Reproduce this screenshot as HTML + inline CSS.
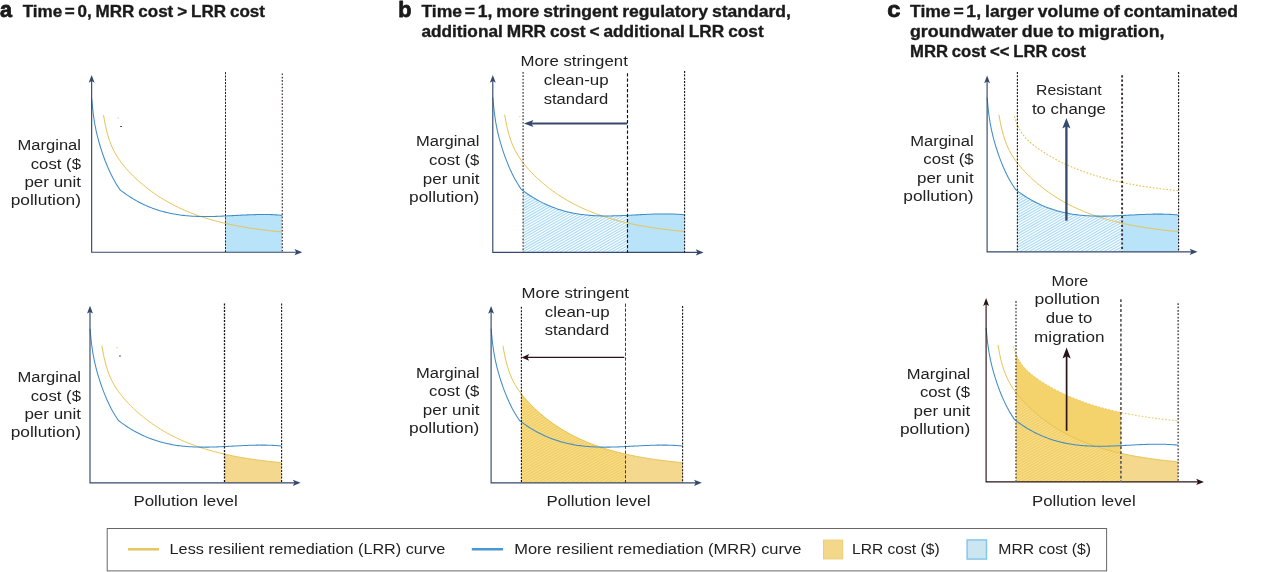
<!DOCTYPE html>
<html lang="en">
<head>
<meta charset="utf-8">
<title>Remediation cost curves</title>
<style>
html,body{margin:0;padding:0;background:#fff;}
body{width:1270px;height:572px;overflow:hidden;}
svg{display:block;font-family:"Liberation Sans",sans-serif;}
</style>
</head>
<body>
<svg width="1270" height="572" viewBox="0 0 1270 572">
<rect width="1270" height="572" fill="#fff"/>
<path d="M225.50,252.20 L225.50,215.98 L226.65,215.93 L228.15,215.85 L229.65,215.77 L231.15,215.69 L232.65,215.62 L234.15,215.54 L235.65,215.46 L237.15,215.38 L238.65,215.30 L240.15,215.22 L241.65,215.14 L243.15,215.07 L244.65,215.00 L246.15,214.93 L247.65,214.86 L249.15,214.80 L250.65,214.75 L252.15,214.69 L253.65,214.65 L255.15,214.61 L256.65,214.57 L258.15,214.54 L259.65,214.52 L261.15,214.50 L262.65,214.50 L264.15,214.50 L265.65,214.51 L267.15,214.53 L268.65,214.56 L270.15,214.60 L271.65,214.64 L273.15,214.70 L274.65,214.78 L276.15,214.86 L277.65,214.95 L279.15,215.06 L280.65,215.18 L282.10,215.31 L282.10,252.20 Z" fill="#b9e3f8"/>
<path d="M103.50,115.21 L105.00,123.49 L106.50,130.23 L108.00,135.81 L109.50,140.50 L111.00,144.50 L112.50,147.98 L114.00,151.05 L115.50,153.81 L117.00,156.32 L118.50,158.64 L120.00,160.79 L121.50,162.82 L123.00,164.74 L124.50,166.57 L126.00,168.33 L127.50,170.02 L129.00,171.65 L130.50,173.23 L132.00,174.76 L133.50,176.25 L135.00,177.70 L136.50,179.11 L138.00,180.49 L139.50,181.82 L141.00,183.13 L142.50,184.41 L144.00,185.65 L145.50,186.87 L147.00,188.05 L148.50,189.21 L150.00,190.34 L151.50,191.45 L153.00,192.53 L154.50,193.58 L156.00,194.61 L157.50,195.61 L159.00,196.60 L160.50,197.56 L162.00,198.49 L163.50,199.41 L165.00,200.30 L166.50,201.18 L168.00,202.03 L169.50,202.86 L171.00,203.68 L172.50,204.47 L174.00,205.25 L175.50,206.01 L177.00,206.75 L178.50,207.48 L180.00,208.18 L181.50,208.87 L183.00,209.55 L184.50,210.21 L186.00,210.85 L187.50,211.48 L189.00,212.10 L190.50,212.70 L192.00,213.29 L193.50,213.86 L195.00,214.42 L196.50,214.97 L198.00,215.50 L199.50,216.02 L201.00,216.53 L202.50,217.03 L204.00,217.52 L205.50,217.99 L207.00,218.46 L208.50,218.91 L210.00,219.35 L211.50,219.79 L213.00,220.21 L214.50,220.62 L216.00,221.03 L217.50,221.42 L219.00,221.80 L220.50,222.18 L222.00,222.55 L223.50,222.91 L225.00,223.26 L226.50,223.60 L228.00,223.94 L229.50,224.26 L231.00,224.58 L232.50,224.89 L234.00,225.20 L235.50,225.50 L237.00,225.79 L238.50,226.07 L240.00,226.35 L241.50,226.62 L243.00,226.88 L244.50,227.14 L246.00,227.40 L247.50,227.64 L249.00,227.88 L250.50,228.12 L252.00,228.35 L253.50,228.57 L255.00,228.79 L256.50,229.01 L258.00,229.22 L259.50,229.42 L261.00,229.62 L262.50,229.82 L264.00,230.01 L265.50,230.19 L267.00,230.38 L268.50,230.55 L270.00,230.73 L271.50,230.90 L273.00,231.06 L274.50,231.23 L276.00,231.38 L277.50,231.54 L279.00,231.69 L280.50,231.84 L282.00,231.98 L282.20,232.00" fill="none" stroke="#e8c352" stroke-width="1.0"/>
<path d="M91.65,98.20 L93.15,113.13 L94.65,123.23 L96.15,130.88 L97.65,137.20 L99.15,142.74 L100.65,147.76 L102.15,152.39 L103.65,156.71 L105.15,160.75 L106.65,164.53 L108.15,168.09 L109.65,171.44 L111.15,174.58 L112.65,177.54 L114.15,180.32 L115.65,182.94 L117.15,185.40 L118.65,187.71 L120.00,189.83 L120.15,189.94 L121.65,191.09 L123.15,192.20 L124.65,193.29 L126.15,194.34 L127.65,195.36 L129.15,196.35 L130.65,197.31 L132.15,198.25 L133.65,199.15 L135.15,200.02 L136.65,200.87 L138.15,201.69 L139.65,202.48 L141.15,203.24 L142.65,203.98 L144.15,204.69 L145.65,205.37 L147.15,206.03 L148.65,206.67 L150.15,207.28 L151.65,207.87 L153.15,208.43 L154.65,208.97 L156.15,209.49 L157.65,209.98 L159.15,210.45 L160.65,210.90 L162.15,211.33 L163.65,211.74 L165.15,212.13 L166.65,212.50 L168.15,212.85 L169.65,213.18 L171.15,213.50 L172.65,213.79 L174.15,214.07 L175.65,214.33 L177.15,214.57 L178.65,214.80 L180.15,215.01 L181.65,215.20 L183.15,215.38 L184.65,215.55 L186.15,215.70 L187.65,215.83 L189.15,215.96 L190.65,216.07 L192.15,216.16 L193.65,216.25 L195.15,216.32 L196.65,216.39 L198.15,216.44 L199.65,216.48 L201.15,216.51 L202.65,216.53 L204.15,216.54 L205.65,216.55 L207.15,216.54 L208.65,216.53 L210.15,216.51 L211.65,216.48 L213.15,216.45 L214.65,216.41 L216.15,216.37 L217.65,216.32 L219.15,216.26 L220.65,216.20 L222.15,216.14 L223.65,216.07 L225.15,216.00 L226.65,215.93 L228.15,215.85 L229.65,215.77 L231.15,215.69 L232.65,215.62 L234.15,215.54 L235.65,215.46 L237.15,215.38 L238.65,215.30 L240.15,215.22 L241.65,215.14 L243.15,215.07 L244.65,215.00 L246.15,214.93 L247.65,214.86 L249.15,214.80 L250.65,214.75 L252.15,214.69 L253.65,214.65 L255.15,214.61 L256.65,214.57 L258.15,214.54 L259.65,214.52 L261.15,214.50 L262.65,214.50 L264.15,214.50 L265.65,214.51 L267.15,214.53 L268.65,214.56 L270.15,214.60 L271.65,214.64 L273.15,214.70 L274.65,214.78 L276.15,214.86 L277.65,214.95 L279.15,215.06 L280.65,215.18 L282.15,215.32 L282.20,215.32" fill="none" stroke="#3f8cc6" stroke-width="1.05"/>
<path d="M91.65,79.00 L91.65,252.20 L298.30,252.20" fill="none" stroke="#34496b" stroke-width="1.15" stroke-linejoin="miter"/>
<path d="M91.65,75.00 l2.95,7.8 l-2.95,-1.7 l-2.95,1.7 Z" fill="#34496b"/>
<path d="M302.30,252.20 l-7.8,-3.1 l1.7,3.1 l-1.7,3.1 Z" fill="#34496b"/>
<line x1="225.50" y1="72.10" x2="225.50" y2="252.20" stroke="#2a2022" stroke-width="1.0" stroke-dasharray="2.1 1.2"/>
<line x1="282.30" y1="73.40" x2="282.30" y2="252.20" stroke="#4c4042" stroke-width="1.3" stroke-dasharray="1.65 1.68"/>
<text x="17.6" y="150.4" font-size="15.5" font-weight="normal" text-anchor="start" fill="#222" textLength="63.4" lengthAdjust="spacingAndGlyphs">Marginal</text>
<text x="30.7" y="168.5" font-size="15.5" font-weight="normal" text-anchor="start" fill="#222" textLength="50.3" lengthAdjust="spacingAndGlyphs">cost ($</text>
<text x="24.4" y="186.6" font-size="15.5" font-weight="normal" text-anchor="start" fill="#222" textLength="56.6" lengthAdjust="spacingAndGlyphs">per unit</text>
<text x="10.7" y="204.7" font-size="15.5" font-weight="normal" text-anchor="start" fill="#222" textLength="70.3" lengthAdjust="spacingAndGlyphs">pollution)</text>
<rect x="117.3" y="117.2" width="1.6" height="1.6" fill="#ece3b4"/><rect x="120.1" y="126" width="1.9" height="0.9" fill="#3a3a3a"/>
<rect x="116.3" y="346.8" width="1.6" height="1.6" fill="#ece3b4"/><rect x="119" y="355.6" width="1.9" height="0.9" fill="#3a3a3a"/>
<path d="M224.60,482.80 L224.60,454.14 L224.85,454.20 L226.35,454.54 L227.85,454.86 L229.35,455.18 L230.85,455.49 L232.35,455.80 L233.85,456.10 L235.35,456.39 L236.85,456.67 L238.35,456.95 L239.85,457.22 L241.35,457.48 L242.85,457.74 L244.35,458.00 L245.85,458.24 L247.35,458.48 L248.85,458.72 L250.35,458.95 L251.85,459.17 L253.35,459.39 L254.85,459.61 L256.35,459.82 L257.85,460.02 L259.35,460.22 L260.85,460.42 L262.35,460.61 L263.85,460.79 L265.35,460.98 L266.85,461.15 L268.35,461.33 L269.85,461.50 L271.35,461.66 L272.85,461.83 L274.35,461.98 L275.85,462.14 L277.35,462.29 L278.85,462.44 L280.35,462.58 L281.50,462.69 L281.50,482.80 Z" fill="#f4d88e"/>
<path d="M101.85,345.81 L103.35,354.09 L104.85,360.83 L106.35,366.41 L107.85,371.10 L109.35,375.10 L110.85,378.58 L112.35,381.65 L113.85,384.41 L115.35,386.92 L116.85,389.24 L118.35,391.39 L119.85,393.42 L121.35,395.34 L122.85,397.17 L124.35,398.93 L125.85,400.62 L127.35,402.25 L128.85,403.83 L130.35,405.36 L131.85,406.85 L133.35,408.30 L134.85,409.71 L136.35,411.09 L137.85,412.42 L139.35,413.73 L140.85,415.01 L142.35,416.25 L143.85,417.47 L145.35,418.65 L146.85,419.81 L148.35,420.94 L149.85,422.05 L151.35,423.13 L152.85,424.18 L154.35,425.21 L155.85,426.21 L157.35,427.20 L158.85,428.16 L160.35,429.09 L161.85,430.01 L163.35,430.90 L164.85,431.78 L166.35,432.63 L167.85,433.46 L169.35,434.28 L170.85,435.07 L172.35,435.85 L173.85,436.61 L175.35,437.35 L176.85,438.08 L178.35,438.78 L179.85,439.47 L181.35,440.15 L182.85,440.81 L184.35,441.45 L185.85,442.08 L187.35,442.70 L188.85,443.30 L190.35,443.89 L191.85,444.46 L193.35,445.02 L194.85,445.57 L196.35,446.10 L197.85,446.62 L199.35,447.13 L200.85,447.63 L202.35,448.12 L203.85,448.59 L205.35,449.06 L206.85,449.51 L208.35,449.95 L209.85,450.39 L211.35,450.81 L212.85,451.22 L214.35,451.63 L215.85,452.02 L217.35,452.40 L218.85,452.78 L220.35,453.15 L221.85,453.51 L223.35,453.86 L224.85,454.20 L226.35,454.54 L227.85,454.86 L229.35,455.18 L230.85,455.49 L232.35,455.80 L233.85,456.10 L235.35,456.39 L236.85,456.67 L238.35,456.95 L239.85,457.22 L241.35,457.48 L242.85,457.74 L244.35,458.00 L245.85,458.24 L247.35,458.48 L248.85,458.72 L250.35,458.95 L251.85,459.17 L253.35,459.39 L254.85,459.61 L256.35,459.82 L257.85,460.02 L259.35,460.22 L260.85,460.42 L262.35,460.61 L263.85,460.79 L265.35,460.98 L266.85,461.15 L268.35,461.33 L269.85,461.50 L271.35,461.66 L272.85,461.83 L274.35,461.98 L275.85,462.14 L277.35,462.29 L278.85,462.44 L280.35,462.58 L281.50,462.69" fill="none" stroke="#e8c352" stroke-width="1.0"/>
<path d="M90.00,328.80 L91.50,343.73 L93.00,353.83 L94.50,361.48 L96.00,367.80 L97.50,373.34 L99.00,378.36 L100.50,382.99 L102.00,387.31 L103.50,391.35 L105.00,395.13 L106.50,398.69 L108.00,402.04 L109.50,405.18 L111.00,408.14 L112.50,410.92 L114.00,413.54 L115.50,416.00 L117.00,418.31 L118.35,420.43 L118.50,420.54 L120.00,421.69 L121.50,422.80 L123.00,423.89 L124.50,424.94 L126.00,425.96 L127.50,426.95 L129.00,427.91 L130.50,428.85 L132.00,429.75 L133.50,430.62 L135.00,431.47 L136.50,432.29 L138.00,433.08 L139.50,433.84 L141.00,434.58 L142.50,435.29 L144.00,435.97 L145.50,436.63 L147.00,437.27 L148.50,437.88 L150.00,438.47 L151.50,439.03 L153.00,439.57 L154.50,440.09 L156.00,440.58 L157.50,441.05 L159.00,441.50 L160.50,441.93 L162.00,442.34 L163.50,442.73 L165.00,443.10 L166.50,443.45 L168.00,443.78 L169.50,444.10 L171.00,444.39 L172.50,444.67 L174.00,444.93 L175.50,445.17 L177.00,445.40 L178.50,445.61 L180.00,445.80 L181.50,445.98 L183.00,446.15 L184.50,446.30 L186.00,446.43 L187.50,446.56 L189.00,446.67 L190.50,446.76 L192.00,446.85 L193.50,446.92 L195.00,446.99 L196.50,447.04 L198.00,447.08 L199.50,447.11 L201.00,447.13 L202.50,447.14 L204.00,447.15 L205.50,447.14 L207.00,447.13 L208.50,447.11 L210.00,447.08 L211.50,447.05 L213.00,447.01 L214.50,446.97 L216.00,446.92 L217.50,446.86 L219.00,446.80 L220.50,446.74 L222.00,446.67 L223.50,446.60 L225.00,446.53 L226.50,446.45 L228.00,446.37 L229.50,446.29 L231.00,446.22 L232.50,446.14 L234.00,446.06 L235.50,445.98 L237.00,445.90 L238.50,445.82 L240.00,445.74 L241.50,445.67 L243.00,445.60 L244.50,445.53 L246.00,445.46 L247.50,445.40 L249.00,445.35 L250.50,445.29 L252.00,445.25 L253.50,445.21 L255.00,445.17 L256.50,445.14 L258.00,445.12 L259.50,445.10 L261.00,445.10 L262.50,445.10 L264.00,445.11 L265.50,445.13 L267.00,445.16 L268.50,445.20 L270.00,445.24 L271.50,445.30 L273.00,445.38 L274.50,445.46 L276.00,445.55 L277.50,445.66 L279.00,445.78 L280.50,445.92 L281.50,446.01" fill="none" stroke="#3f8cc6" stroke-width="1.05"/>
<path d="M90.00,309.80 L90.00,482.80 L296.60,482.80" fill="none" stroke="#34496b" stroke-width="1.15" stroke-linejoin="miter"/>
<path d="M90.00,305.80 l2.95,7.8 l-2.95,-1.7 l-2.95,1.7 Z" fill="#34496b"/>
<path d="M300.60,482.80 l-7.8,-3.1 l1.7,3.1 l-1.7,3.1 Z" fill="#34496b"/>
<line x1="224.50" y1="303.40" x2="224.50" y2="482.80" stroke="#151012" stroke-width="1.3" stroke-dasharray="2 1.33"/>
<line x1="281.60" y1="303.40" x2="281.60" y2="482.80" stroke="#151012" stroke-width="1.1" stroke-dasharray="2 1.33"/>
<text x="17.6" y="382.3" font-size="15.5" font-weight="normal" text-anchor="start" fill="#222" textLength="63.4" lengthAdjust="spacingAndGlyphs">Marginal</text>
<text x="30.7" y="400.6" font-size="15.5" font-weight="normal" text-anchor="start" fill="#222" textLength="50.3" lengthAdjust="spacingAndGlyphs">cost ($</text>
<text x="24.4" y="419.0" font-size="15.5" font-weight="normal" text-anchor="start" fill="#222" textLength="56.6" lengthAdjust="spacingAndGlyphs">per unit</text>
<text x="10.7" y="437.4" font-size="15.5" font-weight="normal" text-anchor="start" fill="#222" textLength="70.3" lengthAdjust="spacingAndGlyphs">pollution)</text>
<text x="133.4" y="505.7" font-size="15.5" font-weight="normal" text-anchor="start" fill="#222" textLength="104.4" lengthAdjust="spacingAndGlyphs">Pollution level</text>
<clipPath id="cl1"><path d="M523.10,252.40 L523.10,190.71 L524.30,191.60 L525.80,192.69 L527.30,193.74 L528.80,194.76 L530.30,195.75 L531.80,196.71 L533.30,197.65 L534.80,198.55 L536.30,199.42 L537.80,200.27 L539.30,201.09 L540.80,201.88 L542.30,202.64 L543.80,203.38 L545.30,204.09 L546.80,204.77 L548.30,205.43 L549.80,206.07 L551.30,206.68 L552.80,207.27 L554.30,207.83 L555.80,208.37 L557.30,208.89 L558.80,209.38 L560.30,209.85 L561.80,210.30 L563.30,210.73 L564.80,211.14 L566.30,211.53 L567.80,211.90 L569.30,212.25 L570.80,212.58 L572.30,212.90 L573.80,213.19 L575.30,213.47 L576.80,213.73 L578.30,213.97 L579.80,214.20 L581.30,214.41 L582.80,214.60 L584.30,214.78 L585.80,214.95 L587.30,215.10 L588.80,215.23 L590.30,215.36 L591.80,215.47 L593.30,215.56 L594.80,215.65 L596.30,215.72 L597.80,215.79 L599.30,215.84 L600.80,215.88 L602.30,215.91 L603.80,215.93 L605.30,215.94 L606.80,215.95 L608.30,215.94 L609.80,215.93 L611.30,215.91 L612.80,215.88 L614.30,215.85 L615.80,215.81 L617.30,215.77 L618.80,215.72 L620.30,215.66 L621.80,215.60 L623.30,215.54 L624.80,215.47 L626.30,215.40 L627.20,215.35 L627.20,252.40 Z"/></clipPath><path d="M522.10,187.63L628.20,126.37M522.10,190.33L628.20,129.07M522.10,193.03L628.20,131.77M522.10,195.73L628.20,134.48M522.10,198.44L628.20,137.18M522.10,201.14L628.20,139.88M522.10,203.84L628.20,142.58M522.10,206.54L628.20,145.28M522.10,209.24L628.20,147.99M522.10,211.95L628.20,150.69M522.10,214.65L628.20,153.39M522.10,217.35L628.20,156.09M522.10,220.05L628.20,158.79M522.10,222.75L628.20,161.50M522.10,225.46L628.20,164.20M522.10,228.16L628.20,166.90M522.10,230.86L628.20,169.60M522.10,233.56L628.20,172.30M522.10,236.26L628.20,175.01M522.10,238.97L628.20,177.71M522.10,241.67L628.20,180.41M522.10,244.37L628.20,183.11M522.10,247.07L628.20,185.81M522.10,249.77L628.20,188.52M522.10,252.48L628.20,191.22M522.10,255.18L628.20,193.92M522.10,257.88L628.20,196.62M522.10,260.58L628.20,199.32M522.10,263.28L628.20,202.03M522.10,265.99L628.20,204.73M522.10,268.69L628.20,207.43M522.10,271.39L628.20,210.13M522.10,274.09L628.20,212.83M522.10,276.79L628.20,215.54M522.10,279.50L628.20,218.24M522.10,282.20L628.20,220.94M522.10,284.90L628.20,223.64M522.10,287.60L628.20,226.34M522.10,290.30L628.20,229.05M522.10,293.01L628.20,231.75M522.10,295.71L628.20,234.45M522.10,298.41L628.20,237.15M522.10,301.11L628.20,239.85M522.10,303.81L628.20,242.56M522.10,306.52L628.20,245.26M522.10,309.22L628.20,247.96M522.10,311.92L628.20,250.66M522.10,314.62L628.20,253.36" clip-path="url(#cl1)" stroke="#a9daf6" stroke-width="1.15" fill="none"/>
<path d="M627.20,252.40 L627.20,215.35 L627.80,215.33 L629.30,215.25 L630.80,215.17 L632.30,215.09 L633.80,215.02 L635.30,214.94 L636.80,214.86 L638.30,214.78 L639.80,214.70 L641.30,214.62 L642.80,214.54 L644.30,214.47 L645.80,214.40 L647.30,214.33 L648.80,214.26 L650.30,214.20 L651.80,214.15 L653.30,214.09 L654.80,214.05 L656.30,214.01 L657.80,213.97 L659.30,213.94 L660.80,213.92 L662.30,213.90 L663.80,213.90 L665.30,213.90 L666.80,213.91 L668.30,213.93 L669.80,213.96 L671.30,214.00 L672.80,214.04 L674.30,214.10 L675.80,214.18 L677.30,214.26 L678.80,214.35 L680.30,214.46 L681.80,214.58 L683.30,214.72 L684.60,214.84 L684.60,252.40 Z" fill="#b9e3f8"/>
<path d="M504.65,114.61 L506.15,122.89 L507.65,129.63 L509.15,135.21 L510.65,139.90 L512.15,143.90 L513.65,147.38 L515.15,150.45 L516.65,153.21 L518.15,155.72 L519.65,158.04 L521.15,160.19 L522.65,162.22 L524.15,164.14 L525.65,165.97 L527.15,167.73 L528.65,169.42 L530.15,171.05 L531.65,172.63 L533.15,174.16 L534.65,175.65 L536.15,177.10 L537.65,178.51 L539.15,179.89 L540.65,181.22 L542.15,182.53 L543.65,183.81 L545.15,185.05 L546.65,186.27 L548.15,187.45 L549.65,188.61 L551.15,189.74 L552.65,190.85 L554.15,191.93 L555.65,192.98 L557.15,194.01 L558.65,195.01 L560.15,196.00 L561.65,196.96 L563.15,197.89 L564.65,198.81 L566.15,199.70 L567.65,200.58 L569.15,201.43 L570.65,202.26 L572.15,203.08 L573.65,203.87 L575.15,204.65 L576.65,205.41 L578.15,206.15 L579.65,206.88 L581.15,207.58 L582.65,208.27 L584.15,208.95 L585.65,209.61 L587.15,210.25 L588.65,210.88 L590.15,211.50 L591.65,212.10 L593.15,212.69 L594.65,213.26 L596.15,213.82 L597.65,214.37 L599.15,214.90 L600.65,215.42 L602.15,215.93 L603.65,216.43 L605.15,216.92 L606.65,217.39 L608.15,217.86 L609.65,218.31 L611.15,218.75 L612.65,219.19 L614.15,219.61 L615.65,220.02 L617.15,220.43 L618.65,220.82 L620.15,221.20 L621.65,221.58 L623.15,221.95 L624.65,222.31 L626.15,222.66 L627.65,223.00 L629.15,223.34 L630.65,223.66 L632.15,223.98 L633.65,224.29 L635.15,224.60 L636.65,224.90 L638.15,225.19 L639.65,225.47 L641.15,225.75 L642.65,226.02 L644.15,226.28 L645.65,226.54 L647.15,226.80 L648.65,227.04 L650.15,227.28 L651.65,227.52 L653.15,227.75 L654.65,227.97 L656.15,228.19 L657.65,228.41 L659.15,228.62 L660.65,228.82 L662.15,229.02 L663.65,229.22 L665.15,229.41 L666.65,229.59 L668.15,229.78 L669.65,229.95 L671.15,230.13 L672.65,230.30 L674.15,230.46 L675.65,230.63 L677.15,230.78 L678.65,230.94 L680.15,231.09 L681.65,231.24 L683.15,231.38 L684.50,231.51" fill="none" stroke="#e8c352" stroke-width="1.0"/>
<path d="M492.80,97.60 L494.30,112.53 L495.80,122.63 L497.30,130.28 L498.80,136.60 L500.30,142.14 L501.80,147.16 L503.30,151.79 L504.80,156.11 L506.30,160.15 L507.80,163.93 L509.30,167.49 L510.80,170.84 L512.30,173.98 L513.80,176.94 L515.30,179.72 L516.80,182.34 L518.30,184.80 L519.80,187.11 L521.15,189.23 L521.30,189.34 L522.80,190.49 L524.30,191.60 L525.80,192.69 L527.30,193.74 L528.80,194.76 L530.30,195.75 L531.80,196.71 L533.30,197.65 L534.80,198.55 L536.30,199.42 L537.80,200.27 L539.30,201.09 L540.80,201.88 L542.30,202.64 L543.80,203.38 L545.30,204.09 L546.80,204.77 L548.30,205.43 L549.80,206.07 L551.30,206.68 L552.80,207.27 L554.30,207.83 L555.80,208.37 L557.30,208.89 L558.80,209.38 L560.30,209.85 L561.80,210.30 L563.30,210.73 L564.80,211.14 L566.30,211.53 L567.80,211.90 L569.30,212.25 L570.80,212.58 L572.30,212.90 L573.80,213.19 L575.30,213.47 L576.80,213.73 L578.30,213.97 L579.80,214.20 L581.30,214.41 L582.80,214.60 L584.30,214.78 L585.80,214.95 L587.30,215.10 L588.80,215.23 L590.30,215.36 L591.80,215.47 L593.30,215.56 L594.80,215.65 L596.30,215.72 L597.80,215.79 L599.30,215.84 L600.80,215.88 L602.30,215.91 L603.80,215.93 L605.30,215.94 L606.80,215.95 L608.30,215.94 L609.80,215.93 L611.30,215.91 L612.80,215.88 L614.30,215.85 L615.80,215.81 L617.30,215.77 L618.80,215.72 L620.30,215.66 L621.80,215.60 L623.30,215.54 L624.80,215.47 L626.30,215.40 L627.80,215.33 L629.30,215.25 L630.80,215.17 L632.30,215.09 L633.80,215.02 L635.30,214.94 L636.80,214.86 L638.30,214.78 L639.80,214.70 L641.30,214.62 L642.80,214.54 L644.30,214.47 L645.80,214.40 L647.30,214.33 L648.80,214.26 L650.30,214.20 L651.80,214.15 L653.30,214.09 L654.80,214.05 L656.30,214.01 L657.80,213.97 L659.30,213.94 L660.80,213.92 L662.30,213.90 L663.80,213.90 L665.30,213.90 L666.80,213.91 L668.30,213.93 L669.80,213.96 L671.30,214.00 L672.80,214.04 L674.30,214.10 L675.80,214.18 L677.30,214.26 L678.80,214.35 L680.30,214.46 L681.80,214.58 L683.30,214.72 L684.50,214.83" fill="none" stroke="#3f8cc6" stroke-width="1.05"/>
<path d="M492.80,79.00 L492.80,252.40 L699.60,252.40" fill="none" stroke="#34496b" stroke-width="1.15" stroke-linejoin="miter"/>
<path d="M492.80,75.00 l2.95,7.8 l-2.95,-1.7 l-2.95,1.7 Z" fill="#34496b"/>
<path d="M703.60,252.40 l-7.8,-3.1 l1.7,3.1 l-1.7,3.1 Z" fill="#34496b"/>
<line x1="523.10" y1="72.00" x2="523.10" y2="252.40" stroke="#4c4042" stroke-width="1.3" stroke-dasharray="1.65 1.68"/>
<line x1="627.50" y1="73.30" x2="627.50" y2="252.40" stroke="#151012" stroke-width="1.15" stroke-dasharray="3.3 1.9"/>
<line x1="684.60" y1="71.00" x2="684.60" y2="252.40" stroke="#151012" stroke-width="1.1" stroke-dasharray="2 1.33"/>
<text x="416.0" y="146.4" font-size="15.5" font-weight="normal" text-anchor="start" fill="#222" textLength="63.4" lengthAdjust="spacingAndGlyphs">Marginal</text>
<text x="429.1" y="165.3" font-size="15.5" font-weight="normal" text-anchor="start" fill="#222" textLength="50.3" lengthAdjust="spacingAndGlyphs">cost ($</text>
<text x="422.8" y="183.7" font-size="15.5" font-weight="normal" text-anchor="start" fill="#222" textLength="56.6" lengthAdjust="spacingAndGlyphs">per unit</text>
<text x="409.1" y="202.1" font-size="15.5" font-weight="normal" text-anchor="start" fill="#222" textLength="70.3" lengthAdjust="spacingAndGlyphs">pollution)</text>
<text x="520.5" y="66.2" font-size="15.5" font-weight="normal" text-anchor="start" fill="#222" textLength="107.3" lengthAdjust="spacingAndGlyphs">More stringent</text>
<text x="543.7" y="84.6" font-size="15.5" font-weight="normal" text-anchor="start" fill="#222" textLength="64.9" lengthAdjust="spacingAndGlyphs">clean-up</text>
<text x="543.7" y="103.5" font-size="15.5" font-weight="normal" text-anchor="start" fill="#222" textLength="64.5" lengthAdjust="spacingAndGlyphs">standard</text>
<path d="M627,123.5 L530,123.5" stroke="#34496b" stroke-width="2" fill="none"/>
<path d="M523.9,123.5 l9.5,-3.6 l-2,3.6 l2,3.6 Z" fill="#34496b"/>
<rect x="518.9" y="115.9" width="1.4" height="1.4" fill="#ece3b4"/>
<clipPath id="cl2"><path d="M521.20,482.80 L521.20,393.74 L522.45,395.34 L523.95,397.17 L525.45,398.93 L526.95,400.62 L528.45,402.25 L529.95,403.83 L531.45,405.36 L532.95,406.85 L534.45,408.30 L535.95,409.71 L537.45,411.09 L538.95,412.42 L540.45,413.73 L541.95,415.01 L543.45,416.25 L544.95,417.47 L546.45,418.65 L547.95,419.81 L549.45,420.94 L550.95,422.05 L552.45,423.13 L553.95,424.18 L555.45,425.21 L556.95,426.21 L558.45,427.20 L559.95,428.16 L561.45,429.09 L562.95,430.01 L564.45,430.90 L565.95,431.78 L567.45,432.63 L568.95,433.46 L570.45,434.28 L571.95,435.07 L573.45,435.85 L574.95,436.61 L576.45,437.35 L577.95,438.08 L579.45,438.78 L580.95,439.47 L582.45,440.15 L583.95,440.81 L585.45,441.45 L586.95,442.08 L588.45,442.70 L589.95,443.30 L591.45,443.89 L592.95,444.46 L594.45,445.02 L595.95,445.57 L597.45,446.10 L598.95,446.62 L600.45,447.13 L601.95,447.63 L603.45,448.12 L604.95,448.59 L606.45,449.06 L607.95,449.51 L609.45,449.95 L610.95,450.39 L612.45,450.81 L613.95,451.22 L615.45,451.63 L616.95,452.02 L618.45,452.40 L619.95,452.78 L621.45,453.15 L622.95,453.51 L624.45,453.86 L625.50,454.10 L625.50,482.80 Z"/></clipPath><path d="M521.20,482.80 L521.20,393.74 L522.45,395.34 L523.95,397.17 L525.45,398.93 L526.95,400.62 L528.45,402.25 L529.95,403.83 L531.45,405.36 L532.95,406.85 L534.45,408.30 L535.95,409.71 L537.45,411.09 L538.95,412.42 L540.45,413.73 L541.95,415.01 L543.45,416.25 L544.95,417.47 L546.45,418.65 L547.95,419.81 L549.45,420.94 L550.95,422.05 L552.45,423.13 L553.95,424.18 L555.45,425.21 L556.95,426.21 L558.45,427.20 L559.95,428.16 L561.45,429.09 L562.95,430.01 L564.45,430.90 L565.95,431.78 L567.45,432.63 L568.95,433.46 L570.45,434.28 L571.95,435.07 L573.45,435.85 L574.95,436.61 L576.45,437.35 L577.95,438.08 L579.45,438.78 L580.95,439.47 L582.45,440.15 L583.95,440.81 L585.45,441.45 L586.95,442.08 L588.45,442.70 L589.95,443.30 L591.45,443.89 L592.95,444.46 L594.45,445.02 L595.95,445.57 L597.45,446.10 L598.95,446.62 L600.45,447.13 L601.95,447.63 L603.45,448.12 L604.95,448.59 L606.45,449.06 L607.95,449.51 L609.45,449.95 L610.95,450.39 L612.45,450.81 L613.95,451.22 L615.45,451.63 L616.95,452.02 L618.45,452.40 L619.95,452.78 L621.45,453.15 L622.95,453.51 L624.45,453.86 L625.50,454.10 L625.50,482.80 Z" fill="#f2cf67"/><path d="M520.20,391.37L626.50,330.00M520.20,394.08L626.50,332.70M520.20,396.78L626.50,335.41M520.20,399.48L626.50,338.11M520.20,402.18L626.50,340.81M520.20,404.88L626.50,343.51M520.20,407.59L626.50,346.21M520.20,410.29L626.50,348.92M520.20,412.99L626.50,351.62M520.20,415.69L626.50,354.32M520.20,418.39L626.50,357.02M520.20,421.10L626.50,359.72M520.20,423.80L626.50,362.43M520.20,426.50L626.50,365.13M520.20,429.20L626.50,367.83M520.20,431.90L626.50,370.53M520.20,434.61L626.50,373.23M520.20,437.31L626.50,375.94M520.20,440.01L626.50,378.64M520.20,442.71L626.50,381.34M520.20,445.41L626.50,384.04M520.20,448.12L626.50,386.74M520.20,450.82L626.50,389.45M520.20,453.52L626.50,392.15M520.20,456.22L626.50,394.85M520.20,458.92L626.50,397.55M520.20,461.63L626.50,400.25M520.20,464.33L626.50,402.96M520.20,467.03L626.50,405.66M520.20,469.73L626.50,408.36M520.20,472.43L626.50,411.06M520.20,475.14L626.50,413.76M520.20,477.84L626.50,416.47M520.20,480.54L626.50,419.17M520.20,483.24L626.50,421.87M520.20,485.94L626.50,424.57M520.20,488.65L626.50,427.27M520.20,491.35L626.50,429.98M520.20,494.05L626.50,432.68M520.20,496.75L626.50,435.38M520.20,499.45L626.50,438.08M520.20,502.16L626.50,440.78M520.20,504.86L626.50,443.49M520.20,507.56L626.50,446.19M520.20,510.26L626.50,448.89M520.20,512.96L626.50,451.59M520.20,515.67L626.50,454.29M520.20,518.37L626.50,457.00M520.20,521.07L626.50,459.70M520.20,523.77L626.50,462.40M520.20,526.47L626.50,465.10M520.20,529.18L626.50,467.80M520.20,531.88L626.50,470.51M520.20,534.58L626.50,473.21M520.20,537.28L626.50,475.91M520.20,539.98L626.50,478.61M520.20,542.69L626.50,481.31M520.20,545.39L626.50,484.02" clip-path="url(#cl2)" stroke="#f8e094" stroke-width="0.95" fill="none"/>
<path d="M625.50,482.80 L625.50,454.10 L625.95,454.20 L627.45,454.54 L628.95,454.86 L630.45,455.18 L631.95,455.49 L633.45,455.80 L634.95,456.10 L636.45,456.39 L637.95,456.67 L639.45,456.95 L640.95,457.22 L642.45,457.48 L643.95,457.74 L645.45,458.00 L646.95,458.24 L648.45,458.48 L649.95,458.72 L651.45,458.95 L652.95,459.17 L654.45,459.39 L655.95,459.61 L657.45,459.82 L658.95,460.02 L660.45,460.22 L661.95,460.42 L663.45,460.61 L664.95,460.79 L666.45,460.98 L667.95,461.15 L669.45,461.33 L670.95,461.50 L672.45,461.66 L673.95,461.83 L675.45,461.98 L676.95,462.14 L678.45,462.29 L679.95,462.44 L681.45,462.58 L682.70,462.70 L682.70,482.80 Z" fill="#f4d88e"/>
<path d="M502.95,345.81 L504.45,354.09 L505.95,360.83 L507.45,366.41 L508.95,371.10 L510.45,375.10 L511.95,378.58 L513.45,381.65 L514.95,384.41 L516.45,386.92 L517.95,389.24 L519.45,391.39 L520.95,393.42 L522.45,395.34 L523.95,397.17 L525.45,398.93 L526.95,400.62 L528.45,402.25 L529.95,403.83 L531.45,405.36 L532.95,406.85 L534.45,408.30 L535.95,409.71 L537.45,411.09 L538.95,412.42 L540.45,413.73 L541.95,415.01 L543.45,416.25 L544.95,417.47 L546.45,418.65 L547.95,419.81 L549.45,420.94 L550.95,422.05 L552.45,423.13 L553.95,424.18 L555.45,425.21 L556.95,426.21 L558.45,427.20 L559.95,428.16 L561.45,429.09 L562.95,430.01 L564.45,430.90 L565.95,431.78 L567.45,432.63 L568.95,433.46 L570.45,434.28 L571.95,435.07 L573.45,435.85 L574.95,436.61 L576.45,437.35 L577.95,438.08 L579.45,438.78 L580.95,439.47 L582.45,440.15 L583.95,440.81 L585.45,441.45 L586.95,442.08 L588.45,442.70 L589.95,443.30 L591.45,443.89 L592.95,444.46 L594.45,445.02 L595.95,445.57 L597.45,446.10 L598.95,446.62 L600.45,447.13 L601.95,447.63 L603.45,448.12 L604.95,448.59 L606.45,449.06 L607.95,449.51 L609.45,449.95 L610.95,450.39 L612.45,450.81 L613.95,451.22 L615.45,451.63 L616.95,452.02 L618.45,452.40 L619.95,452.78 L621.45,453.15 L622.95,453.51 L624.45,453.86 L625.95,454.20 L627.45,454.54 L628.95,454.86 L630.45,455.18 L631.95,455.49 L633.45,455.80 L634.95,456.10 L636.45,456.39 L637.95,456.67 L639.45,456.95 L640.95,457.22 L642.45,457.48 L643.95,457.74 L645.45,458.00 L646.95,458.24 L648.45,458.48 L649.95,458.72 L651.45,458.95 L652.95,459.17 L654.45,459.39 L655.95,459.61 L657.45,459.82 L658.95,460.02 L660.45,460.22 L661.95,460.42 L663.45,460.61 L664.95,460.79 L666.45,460.98 L667.95,461.15 L669.45,461.33 L670.95,461.50 L672.45,461.66 L673.95,461.83 L675.45,461.98 L676.95,462.14 L678.45,462.29 L679.95,462.44 L681.45,462.58 L682.50,462.68" fill="none" stroke="#e8c352" stroke-width="1.0"/>
<path d="M491.10,328.80 L492.60,343.73 L494.10,353.83 L495.60,361.48 L497.10,367.80 L498.60,373.34 L500.10,378.36 L501.60,382.99 L503.10,387.31 L504.60,391.35 L506.10,395.13 L507.60,398.69 L509.10,402.04 L510.60,405.18 L512.10,408.14 L513.60,410.92 L515.10,413.54 L516.60,416.00 L518.10,418.31 L519.45,420.43 L519.60,420.54 L521.10,421.69 L522.60,422.80 L524.10,423.89 L525.60,424.94 L527.10,425.96 L528.60,426.95 L530.10,427.91 L531.60,428.85 L533.10,429.75 L534.60,430.62 L536.10,431.47 L537.60,432.29 L539.10,433.08 L540.60,433.84 L542.10,434.58 L543.60,435.29 L545.10,435.97 L546.60,436.63 L548.10,437.27 L549.60,437.88 L551.10,438.47 L552.60,439.03 L554.10,439.57 L555.60,440.09 L557.10,440.58 L558.60,441.05 L560.10,441.50 L561.60,441.93 L563.10,442.34 L564.60,442.73 L566.10,443.10 L567.60,443.45 L569.10,443.78 L570.60,444.10 L572.10,444.39 L573.60,444.67 L575.10,444.93 L576.60,445.17 L578.10,445.40 L579.60,445.61 L581.10,445.80 L582.60,445.98 L584.10,446.15 L585.60,446.30 L587.10,446.43 L588.60,446.56 L590.10,446.67 L591.60,446.76 L593.10,446.85 L594.60,446.92 L596.10,446.99 L597.60,447.04 L599.10,447.08 L600.60,447.11 L602.10,447.13 L603.60,447.14 L605.10,447.15 L606.60,447.14 L608.10,447.13 L609.60,447.11 L611.10,447.08 L612.60,447.05 L614.10,447.01 L615.60,446.97 L617.10,446.92 L618.60,446.86 L620.10,446.80 L621.60,446.74 L623.10,446.67 L624.60,446.60 L626.10,446.53 L627.60,446.45 L629.10,446.37 L630.60,446.29 L632.10,446.22 L633.60,446.14 L635.10,446.06 L636.60,445.98 L638.10,445.90 L639.60,445.82 L641.10,445.74 L642.60,445.67 L644.10,445.60 L645.60,445.53 L647.10,445.46 L648.60,445.40 L650.10,445.35 L651.60,445.29 L653.10,445.25 L654.60,445.21 L656.10,445.17 L657.60,445.14 L659.10,445.12 L660.60,445.10 L662.10,445.10 L663.60,445.10 L665.10,445.11 L666.60,445.13 L668.10,445.16 L669.60,445.20 L671.10,445.24 L672.60,445.30 L674.10,445.38 L675.60,445.46 L677.10,445.55 L678.60,445.66 L680.10,445.78 L681.60,445.92 L682.50,446.00" fill="none" stroke="#3f8cc6" stroke-width="1.05"/>
<path d="M491.10,310.00 L491.10,482.80 L697.80,482.80" fill="none" stroke="#34496b" stroke-width="1.15" stroke-linejoin="miter"/>
<path d="M491.10,306.00 l2.95,7.8 l-2.95,-1.7 l-2.95,1.7 Z" fill="#34496b"/>
<path d="M701.80,482.80 l-7.8,-3.1 l1.7,3.1 l-1.7,3.1 Z" fill="#34496b"/>
<line x1="521.40" y1="306.80" x2="521.40" y2="482.80" stroke="#151012" stroke-width="1.1" stroke-dasharray="2 1.33"/>
<line x1="625.50" y1="303.60" x2="625.50" y2="482.80" stroke="#3a2a2e" stroke-width="0.95" stroke-dasharray="3.2 1.7"/>
<line x1="682.60" y1="306.00" x2="682.60" y2="482.80" stroke="#151012" stroke-width="1.1" stroke-dasharray="2 1.33"/>
<text x="416.0" y="377.5" font-size="15.5" font-weight="normal" text-anchor="start" fill="#222" textLength="63.4" lengthAdjust="spacingAndGlyphs">Marginal</text>
<text x="429.1" y="396.1" font-size="15.5" font-weight="normal" text-anchor="start" fill="#222" textLength="50.3" lengthAdjust="spacingAndGlyphs">cost ($</text>
<text x="422.8" y="414.5" font-size="15.5" font-weight="normal" text-anchor="start" fill="#222" textLength="56.6" lengthAdjust="spacingAndGlyphs">per unit</text>
<text x="409.1" y="432.9" font-size="15.5" font-weight="normal" text-anchor="start" fill="#222" textLength="70.3" lengthAdjust="spacingAndGlyphs">pollution)</text>
<text x="521.6" y="297.8" font-size="15.5" font-weight="normal" text-anchor="start" fill="#222" textLength="107.4" lengthAdjust="spacingAndGlyphs">More stringent</text>
<text x="544.8" y="316.5" font-size="15.5" font-weight="normal" text-anchor="start" fill="#222" textLength="64.9" lengthAdjust="spacingAndGlyphs">clean-up</text>
<text x="544.8" y="335.4" font-size="15.5" font-weight="normal" text-anchor="start" fill="#222" textLength="64.5" lengthAdjust="spacingAndGlyphs">standard</text>
<path d="M624.3,357.4 L527,357.4" stroke="#2b1416" stroke-width="1.4" fill="none"/>
<path d="M521.6,357.4 l7.5,-3.4 l-1.6,3.4 l1.6,3.4 Z" fill="#2b1416"/>
<text x="546.5" y="505.7" font-size="15.5" font-weight="normal" text-anchor="start" fill="#222" textLength="103.9" lengthAdjust="spacingAndGlyphs">Pollution level</text>
<clipPath id="cl3"><path d="M1017.40,251.80 L1017.40,190.91 L1018.60,191.80 L1020.10,192.89 L1021.60,193.94 L1023.10,194.96 L1024.60,195.95 L1026.10,196.91 L1027.60,197.85 L1029.10,198.75 L1030.60,199.62 L1032.10,200.47 L1033.60,201.29 L1035.10,202.08 L1036.60,202.84 L1038.10,203.58 L1039.60,204.29 L1041.10,204.97 L1042.60,205.63 L1044.10,206.27 L1045.60,206.88 L1047.10,207.47 L1048.60,208.03 L1050.10,208.57 L1051.60,209.09 L1053.10,209.58 L1054.60,210.05 L1056.10,210.50 L1057.60,210.93 L1059.10,211.34 L1060.60,211.73 L1062.10,212.10 L1063.60,212.45 L1065.10,212.78 L1066.60,213.10 L1068.10,213.39 L1069.60,213.67 L1071.10,213.93 L1072.60,214.17 L1074.10,214.40 L1075.60,214.61 L1077.10,214.80 L1078.60,214.98 L1080.10,215.15 L1081.60,215.30 L1083.10,215.43 L1084.60,215.56 L1086.10,215.67 L1087.60,215.76 L1089.10,215.85 L1090.60,215.92 L1092.10,215.99 L1093.60,216.04 L1095.10,216.08 L1096.60,216.11 L1098.10,216.13 L1099.60,216.14 L1101.10,216.15 L1102.60,216.14 L1104.10,216.13 L1105.60,216.11 L1107.10,216.08 L1108.60,216.05 L1110.10,216.01 L1111.60,215.97 L1113.10,215.92 L1114.60,215.86 L1116.10,215.80 L1117.60,215.74 L1119.10,215.67 L1120.60,215.60 L1122.10,215.53 L1122.20,215.52 L1122.20,251.80 Z"/></clipPath><path d="M1016.40,188.65L1123.20,126.99M1016.40,191.36L1123.20,129.70M1016.40,194.06L1123.20,132.40M1016.40,196.76L1123.20,135.10M1016.40,199.46L1123.20,137.80M1016.40,202.16L1123.20,140.50M1016.40,204.87L1123.20,143.21M1016.40,207.57L1123.20,145.91M1016.40,210.27L1123.20,148.61M1016.40,212.97L1123.20,151.31M1016.40,215.67L1123.20,154.01M1016.40,218.38L1123.20,156.72M1016.40,221.08L1123.20,159.42M1016.40,223.78L1123.20,162.12M1016.40,226.48L1123.20,164.82M1016.40,229.18L1123.20,167.52M1016.40,231.89L1123.20,170.23M1016.40,234.59L1123.20,172.93M1016.40,237.29L1123.20,175.63M1016.40,239.99L1123.20,178.33M1016.40,242.69L1123.20,181.03M1016.40,245.40L1123.20,183.74M1016.40,248.10L1123.20,186.44M1016.40,250.80L1123.20,189.14M1016.40,253.50L1123.20,191.84M1016.40,256.20L1123.20,194.54M1016.40,258.91L1123.20,197.25M1016.40,261.61L1123.20,199.95M1016.40,264.31L1123.20,202.65M1016.40,267.01L1123.20,205.35M1016.40,269.71L1123.20,208.05M1016.40,272.42L1123.20,210.76M1016.40,275.12L1123.20,213.46M1016.40,277.82L1123.20,216.16M1016.40,280.52L1123.20,218.86M1016.40,283.22L1123.20,221.56M1016.40,285.93L1123.20,224.27M1016.40,288.63L1123.20,226.97M1016.40,291.33L1123.20,229.67M1016.40,294.03L1123.20,232.37M1016.40,296.73L1123.20,235.07M1016.40,299.44L1123.20,237.78M1016.40,302.14L1123.20,240.48M1016.40,304.84L1123.20,243.18M1016.40,307.54L1123.20,245.88M1016.40,310.24L1123.20,248.58M1016.40,312.95L1123.20,251.29" clip-path="url(#cl3)" stroke="#a9daf6" stroke-width="1.15" fill="none"/>
<path d="M1122.20,251.80 L1122.20,215.52 L1123.60,215.45 L1125.10,215.37 L1126.60,215.29 L1128.10,215.22 L1129.60,215.14 L1131.10,215.06 L1132.60,214.98 L1134.10,214.90 L1135.60,214.82 L1137.10,214.74 L1138.60,214.67 L1140.10,214.60 L1141.60,214.53 L1143.10,214.46 L1144.60,214.40 L1146.10,214.35 L1147.60,214.29 L1149.10,214.25 L1150.60,214.21 L1152.10,214.17 L1153.60,214.14 L1155.10,214.12 L1156.60,214.10 L1158.10,214.10 L1159.60,214.10 L1161.10,214.11 L1162.60,214.13 L1164.10,214.16 L1165.60,214.20 L1167.10,214.24 L1168.60,214.30 L1170.10,214.38 L1171.60,214.46 L1173.10,214.55 L1174.60,214.66 L1176.10,214.78 L1177.60,214.92 L1178.40,214.99 L1178.40,251.80 Z" fill="#b9e3f8"/>
<path d="M1014.40,116.40 L1015.90,121.07 L1017.40,124.90 L1018.90,128.11 L1020.40,130.82 L1021.90,133.16 L1023.40,135.22 L1024.90,137.06 L1026.40,138.72 L1027.90,140.24 L1029.40,141.66 L1030.90,142.99 L1032.40,144.25 L1033.90,145.45 L1035.40,146.60 L1036.90,147.70 L1038.40,148.77 L1039.90,149.81 L1041.40,150.82 L1042.90,151.80 L1044.40,152.76 L1045.90,153.69 L1047.40,154.60 L1048.90,155.50 L1050.40,156.37 L1051.90,157.22 L1053.40,158.05 L1054.90,158.87 L1056.40,159.67 L1057.90,160.45 L1059.40,161.22 L1060.90,161.97 L1062.40,162.70 L1063.90,163.42 L1065.40,164.13 L1066.90,164.82 L1068.40,165.50 L1069.90,166.16 L1071.40,166.81 L1072.90,167.44 L1074.40,168.07 L1075.90,168.68 L1077.40,169.27 L1078.90,169.86 L1080.40,170.43 L1081.90,170.99 L1083.40,171.54 L1084.90,172.08 L1086.40,172.61 L1087.90,173.12 L1089.40,173.63 L1090.90,174.12 L1092.40,174.61 L1093.90,175.09 L1095.40,175.55 L1096.90,176.01 L1098.40,176.45 L1099.90,176.89 L1101.40,177.32 L1102.90,177.74 L1104.40,178.15 L1105.90,178.56 L1107.40,178.95 L1108.90,179.34 L1110.40,179.72 L1111.90,180.09 L1113.40,180.45 L1114.90,180.81 L1116.40,181.15 L1117.90,181.50 L1119.40,181.83 L1120.90,182.16 L1122.40,182.48 L1123.90,182.79 L1125.40,183.10 L1126.90,183.40 L1128.40,183.70 L1129.90,183.99 L1131.40,184.27 L1132.90,184.55 L1134.40,184.82 L1135.90,185.09 L1137.40,185.35 L1138.90,185.60 L1140.40,185.85 L1141.90,186.10 L1143.40,186.34 L1144.90,186.57 L1146.40,186.80 L1147.90,187.03 L1149.40,187.25 L1150.90,187.47 L1152.40,187.68 L1153.90,187.89 L1155.40,188.09 L1156.90,188.29 L1158.40,188.48 L1159.90,188.68 L1161.40,188.86 L1162.90,189.05 L1164.40,189.23 L1165.90,189.40 L1167.40,189.57 L1168.90,189.74 L1170.40,189.91 L1171.90,190.07 L1173.40,190.23 L1174.90,190.38 L1176.40,190.54 L1177.90,190.69 L1178.50,190.74" fill="none" stroke="#e8c352" stroke-width="1.1" stroke-dasharray="1.7 1.7"/>
<path d="M998.95,114.81 L1000.45,123.09 L1001.95,129.83 L1003.45,135.41 L1004.95,140.10 L1006.45,144.10 L1007.95,147.58 L1009.45,150.65 L1010.95,153.41 L1012.45,155.92 L1013.95,158.24 L1015.45,160.39 L1016.95,162.42 L1018.45,164.34 L1019.95,166.17 L1021.45,167.93 L1022.95,169.62 L1024.45,171.25 L1025.95,172.83 L1027.45,174.36 L1028.95,175.85 L1030.45,177.30 L1031.95,178.71 L1033.45,180.09 L1034.95,181.42 L1036.45,182.73 L1037.95,184.01 L1039.45,185.25 L1040.95,186.47 L1042.45,187.65 L1043.95,188.81 L1045.45,189.94 L1046.95,191.05 L1048.45,192.13 L1049.95,193.18 L1051.45,194.21 L1052.95,195.21 L1054.45,196.20 L1055.95,197.16 L1057.45,198.09 L1058.95,199.01 L1060.45,199.90 L1061.95,200.78 L1063.45,201.63 L1064.95,202.46 L1066.45,203.28 L1067.95,204.07 L1069.45,204.85 L1070.95,205.61 L1072.45,206.35 L1073.95,207.08 L1075.45,207.78 L1076.95,208.47 L1078.45,209.15 L1079.95,209.81 L1081.45,210.45 L1082.95,211.08 L1084.45,211.70 L1085.95,212.30 L1087.45,212.89 L1088.95,213.46 L1090.45,214.02 L1091.95,214.57 L1093.45,215.10 L1094.95,215.62 L1096.45,216.13 L1097.95,216.63 L1099.45,217.12 L1100.95,217.59 L1102.45,218.06 L1103.95,218.51 L1105.45,218.95 L1106.95,219.39 L1108.45,219.81 L1109.95,220.22 L1111.45,220.63 L1112.95,221.02 L1114.45,221.40 L1115.95,221.78 L1117.45,222.15 L1118.95,222.51 L1120.45,222.86 L1121.95,223.20 L1123.45,223.54 L1124.95,223.86 L1126.45,224.18 L1127.95,224.49 L1129.45,224.80 L1130.95,225.10 L1132.45,225.39 L1133.95,225.67 L1135.45,225.95 L1136.95,226.22 L1138.45,226.48 L1139.95,226.74 L1141.45,227.00 L1142.95,227.24 L1144.45,227.48 L1145.95,227.72 L1147.45,227.95 L1148.95,228.17 L1150.45,228.39 L1151.95,228.61 L1153.45,228.82 L1154.95,229.02 L1156.45,229.22 L1157.95,229.42 L1159.45,229.61 L1160.95,229.79 L1162.45,229.98 L1163.95,230.15 L1165.45,230.33 L1166.95,230.50 L1168.45,230.66 L1169.95,230.83 L1171.45,230.98 L1172.95,231.14 L1174.45,231.29 L1175.95,231.44 L1177.45,231.58 L1178.50,231.68" fill="none" stroke="#e8c352" stroke-width="1.0"/>
<path d="M987.10,97.80 L988.60,112.73 L990.10,122.83 L991.60,130.48 L993.10,136.80 L994.60,142.34 L996.10,147.36 L997.60,151.99 L999.10,156.31 L1000.60,160.35 L1002.10,164.13 L1003.60,167.69 L1005.10,171.04 L1006.60,174.18 L1008.10,177.14 L1009.60,179.92 L1011.10,182.54 L1012.60,185.00 L1014.10,187.31 L1015.45,189.43 L1015.60,189.54 L1017.10,190.69 L1018.60,191.80 L1020.10,192.89 L1021.60,193.94 L1023.10,194.96 L1024.60,195.95 L1026.10,196.91 L1027.60,197.85 L1029.10,198.75 L1030.60,199.62 L1032.10,200.47 L1033.60,201.29 L1035.10,202.08 L1036.60,202.84 L1038.10,203.58 L1039.60,204.29 L1041.10,204.97 L1042.60,205.63 L1044.10,206.27 L1045.60,206.88 L1047.10,207.47 L1048.60,208.03 L1050.10,208.57 L1051.60,209.09 L1053.10,209.58 L1054.60,210.05 L1056.10,210.50 L1057.60,210.93 L1059.10,211.34 L1060.60,211.73 L1062.10,212.10 L1063.60,212.45 L1065.10,212.78 L1066.60,213.10 L1068.10,213.39 L1069.60,213.67 L1071.10,213.93 L1072.60,214.17 L1074.10,214.40 L1075.60,214.61 L1077.10,214.80 L1078.60,214.98 L1080.10,215.15 L1081.60,215.30 L1083.10,215.43 L1084.60,215.56 L1086.10,215.67 L1087.60,215.76 L1089.10,215.85 L1090.60,215.92 L1092.10,215.99 L1093.60,216.04 L1095.10,216.08 L1096.60,216.11 L1098.10,216.13 L1099.60,216.14 L1101.10,216.15 L1102.60,216.14 L1104.10,216.13 L1105.60,216.11 L1107.10,216.08 L1108.60,216.05 L1110.10,216.01 L1111.60,215.97 L1113.10,215.92 L1114.60,215.86 L1116.10,215.80 L1117.60,215.74 L1119.10,215.67 L1120.60,215.60 L1122.10,215.53 L1123.60,215.45 L1125.10,215.37 L1126.60,215.29 L1128.10,215.22 L1129.60,215.14 L1131.10,215.06 L1132.60,214.98 L1134.10,214.90 L1135.60,214.82 L1137.10,214.74 L1138.60,214.67 L1140.10,214.60 L1141.60,214.53 L1143.10,214.46 L1144.60,214.40 L1146.10,214.35 L1147.60,214.29 L1149.10,214.25 L1150.60,214.21 L1152.10,214.17 L1153.60,214.14 L1155.10,214.12 L1156.60,214.10 L1158.10,214.10 L1159.60,214.10 L1161.10,214.11 L1162.60,214.13 L1164.10,214.16 L1165.60,214.20 L1167.10,214.24 L1168.60,214.30 L1170.10,214.38 L1171.60,214.46 L1173.10,214.55 L1174.60,214.66 L1176.10,214.78 L1177.60,214.92 L1178.50,215.00" fill="none" stroke="#3f8cc6" stroke-width="1.05"/>
<path d="M987.10,79.40 L987.10,251.80 L1193.50,251.80" fill="none" stroke="#34496b" stroke-width="1.15" stroke-linejoin="miter"/>
<path d="M987.10,75.40 l2.95,7.8 l-2.95,-1.7 l-2.95,1.7 Z" fill="#34496b"/>
<path d="M1197.50,251.80 l-7.8,-3.1 l1.7,3.1 l-1.7,3.1 Z" fill="#34496b"/>
<line x1="1017.40" y1="72.00" x2="1017.40" y2="251.80" stroke="#151012" stroke-width="1.1" stroke-dasharray="2 1.33"/>
<line x1="1122.10" y1="75.20" x2="1122.10" y2="251.80" stroke="#3a3034" stroke-width="1.9" stroke-dasharray="2.2 2.2"/>
<line x1="1178.60" y1="72.00" x2="1178.60" y2="251.80" stroke="#151012" stroke-width="1.1" stroke-dasharray="2 1.33"/>
<text x="910.2" y="145.5" font-size="15.5" font-weight="normal" text-anchor="start" fill="#222" textLength="63.4" lengthAdjust="spacingAndGlyphs">Marginal</text>
<text x="923.3" y="164.0" font-size="15.5" font-weight="normal" text-anchor="start" fill="#222" textLength="50.3" lengthAdjust="spacingAndGlyphs">cost ($</text>
<text x="917.0" y="182.6" font-size="15.5" font-weight="normal" text-anchor="start" fill="#222" textLength="56.6" lengthAdjust="spacingAndGlyphs">per unit</text>
<text x="903.3" y="201.3" font-size="15.5" font-weight="normal" text-anchor="start" fill="#222" textLength="70.3" lengthAdjust="spacingAndGlyphs">pollution)</text>
<text x="1036.1" y="94.7" font-size="15.5" font-weight="normal" text-anchor="start" fill="#222" textLength="65.6" lengthAdjust="spacingAndGlyphs">Resistant</text>
<text x="1031.9" y="113.6" font-size="15.5" font-weight="normal" text-anchor="start" fill="#222" textLength="74.0" lengthAdjust="spacingAndGlyphs">to change</text>
<path d="M1066.4,220.7 L1066.4,125" stroke="#34496b" stroke-width="2.3" fill="none"/>
<path d="M1066.4,118 l4.1,10.5 l-4.1,-2.2 l-4.1,2.2 Z" fill="#34496b"/>
<path d="M1016.00,481.90 L1016.00,353.98 L1016.40,355.00 L1017.90,358.21 L1019.40,360.92 L1020.90,363.26 L1022.40,365.32 L1023.90,367.16 L1025.40,368.82 L1026.90,370.34 L1028.40,371.76 L1029.90,373.09 L1031.40,374.35 L1032.90,375.55 L1034.40,376.70 L1035.90,377.80 L1037.40,378.87 L1038.90,379.91 L1040.40,380.92 L1041.90,381.90 L1043.40,382.86 L1044.90,383.79 L1046.40,384.70 L1047.90,385.60 L1049.40,386.47 L1050.90,387.32 L1052.40,388.15 L1053.90,388.97 L1055.40,389.77 L1056.90,390.55 L1058.40,391.32 L1059.90,392.07 L1061.40,392.80 L1062.90,393.52 L1064.40,394.23 L1065.90,394.92 L1067.40,395.60 L1068.90,396.26 L1070.40,396.91 L1071.90,397.54 L1073.40,398.17 L1074.90,398.78 L1076.40,399.37 L1077.90,399.96 L1079.40,400.53 L1080.90,401.09 L1082.40,401.64 L1083.90,402.18 L1085.40,402.71 L1086.90,403.22 L1088.40,403.73 L1089.90,404.22 L1091.40,404.71 L1092.90,405.19 L1094.40,405.65 L1095.90,406.11 L1097.40,406.55 L1098.90,406.99 L1100.40,407.42 L1101.90,407.84 L1103.40,408.25 L1104.90,408.66 L1106.40,409.05 L1107.90,409.44 L1109.40,409.82 L1110.90,410.19 L1112.40,410.55 L1113.90,410.91 L1115.40,411.25 L1116.90,411.60 L1118.40,411.93 L1119.90,412.26 L1121.00,412.49 L1121.00,481.90 Z" fill="#f5d36c"/>
<clipPath id="cl4"><path d="M1016.00,481.90 L1016.00,392.58 L1017.45,394.44 L1018.95,396.27 L1020.45,398.03 L1021.95,399.72 L1023.45,401.35 L1024.95,402.93 L1026.45,404.46 L1027.95,405.95 L1029.45,407.40 L1030.95,408.81 L1032.45,410.19 L1033.95,411.52 L1035.45,412.83 L1036.95,414.11 L1038.45,415.35 L1039.95,416.57 L1041.45,417.75 L1042.95,418.91 L1044.45,420.04 L1045.95,421.15 L1047.45,422.23 L1048.95,423.28 L1050.45,424.31 L1051.95,425.31 L1053.45,426.30 L1054.95,427.26 L1056.45,428.19 L1057.95,429.11 L1059.45,430.00 L1060.95,430.88 L1062.45,431.73 L1063.95,432.56 L1065.45,433.38 L1066.95,434.17 L1068.45,434.95 L1069.95,435.71 L1071.45,436.45 L1072.95,437.18 L1074.45,437.88 L1075.95,438.57 L1077.45,439.25 L1078.95,439.91 L1080.45,440.55 L1081.95,441.18 L1083.45,441.80 L1084.95,442.40 L1086.45,442.99 L1087.95,443.56 L1089.45,444.12 L1090.95,444.67 L1092.45,445.20 L1093.95,445.72 L1095.45,446.23 L1096.95,446.73 L1098.45,447.22 L1099.95,447.69 L1101.45,448.16 L1102.95,448.61 L1104.45,449.05 L1105.95,449.49 L1107.45,449.91 L1108.95,450.32 L1110.45,450.73 L1111.95,451.12 L1113.45,451.50 L1114.95,451.88 L1116.45,452.25 L1117.95,452.61 L1119.45,452.96 L1120.95,453.30 L1121.00,453.31 L1121.00,481.90 Z"/></clipPath><path d="M1016.00,481.90 L1016.00,392.58 L1017.45,394.44 L1018.95,396.27 L1020.45,398.03 L1021.95,399.72 L1023.45,401.35 L1024.95,402.93 L1026.45,404.46 L1027.95,405.95 L1029.45,407.40 L1030.95,408.81 L1032.45,410.19 L1033.95,411.52 L1035.45,412.83 L1036.95,414.11 L1038.45,415.35 L1039.95,416.57 L1041.45,417.75 L1042.95,418.91 L1044.45,420.04 L1045.95,421.15 L1047.45,422.23 L1048.95,423.28 L1050.45,424.31 L1051.95,425.31 L1053.45,426.30 L1054.95,427.26 L1056.45,428.19 L1057.95,429.11 L1059.45,430.00 L1060.95,430.88 L1062.45,431.73 L1063.95,432.56 L1065.45,433.38 L1066.95,434.17 L1068.45,434.95 L1069.95,435.71 L1071.45,436.45 L1072.95,437.18 L1074.45,437.88 L1075.95,438.57 L1077.45,439.25 L1078.95,439.91 L1080.45,440.55 L1081.95,441.18 L1083.45,441.80 L1084.95,442.40 L1086.45,442.99 L1087.95,443.56 L1089.45,444.12 L1090.95,444.67 L1092.45,445.20 L1093.95,445.72 L1095.45,446.23 L1096.95,446.73 L1098.45,447.22 L1099.95,447.69 L1101.45,448.16 L1102.95,448.61 L1104.45,449.05 L1105.95,449.49 L1107.45,449.91 L1108.95,450.32 L1110.45,450.73 L1111.95,451.12 L1113.45,451.50 L1114.95,451.88 L1116.45,452.25 L1117.95,452.61 L1119.45,452.96 L1120.95,453.30 L1121.00,453.31 L1121.00,481.90 Z" fill="#f2cf67"/><path d="M1015.00,389.41L1122.00,327.63M1015.00,392.11L1122.00,330.34M1015.00,394.82L1122.00,333.04M1015.00,397.52L1122.00,335.74M1015.00,400.22L1122.00,338.44M1015.00,402.92L1122.00,341.14M1015.00,405.62L1122.00,343.85M1015.00,408.33L1122.00,346.55M1015.00,411.03L1122.00,349.25M1015.00,413.73L1122.00,351.95M1015.00,416.43L1122.00,354.65M1015.00,419.13L1122.00,357.36M1015.00,421.84L1122.00,360.06M1015.00,424.54L1122.00,362.76M1015.00,427.24L1122.00,365.46M1015.00,429.94L1122.00,368.16M1015.00,432.64L1122.00,370.87M1015.00,435.35L1122.00,373.57M1015.00,438.05L1122.00,376.27M1015.00,440.75L1122.00,378.97M1015.00,443.45L1122.00,381.67M1015.00,446.15L1122.00,384.38M1015.00,448.86L1122.00,387.08M1015.00,451.56L1122.00,389.78M1015.00,454.26L1122.00,392.48M1015.00,456.96L1122.00,395.18M1015.00,459.66L1122.00,397.89M1015.00,462.37L1122.00,400.59M1015.00,465.07L1122.00,403.29M1015.00,467.77L1122.00,405.99M1015.00,470.47L1122.00,408.69M1015.00,473.17L1122.00,411.40M1015.00,475.88L1122.00,414.10M1015.00,478.58L1122.00,416.80M1015.00,481.28L1122.00,419.50M1015.00,483.98L1122.00,422.20M1015.00,486.68L1122.00,424.91M1015.00,489.39L1122.00,427.61M1015.00,492.09L1122.00,430.31M1015.00,494.79L1122.00,433.01M1015.00,497.49L1122.00,435.71M1015.00,500.19L1122.00,438.42M1015.00,502.90L1122.00,441.12M1015.00,505.60L1122.00,443.82M1015.00,508.30L1122.00,446.52M1015.00,511.00L1122.00,449.22M1015.00,513.70L1122.00,451.93M1015.00,516.41L1122.00,454.63M1015.00,519.11L1122.00,457.33M1015.00,521.81L1122.00,460.03M1015.00,524.51L1122.00,462.73M1015.00,527.21L1122.00,465.44M1015.00,529.92L1122.00,468.14M1015.00,532.62L1122.00,470.84M1015.00,535.32L1122.00,473.54M1015.00,538.02L1122.00,476.24M1015.00,540.72L1122.00,478.95M1015.00,543.43L1122.00,481.65" clip-path="url(#cl4)" stroke="#f8e094" stroke-width="0.95" fill="none"/>
<path d="M1121.00,481.90 L1121.00,453.31 L1122.45,453.64 L1123.95,453.96 L1125.45,454.28 L1126.95,454.59 L1128.45,454.90 L1129.95,455.20 L1131.45,455.49 L1132.95,455.77 L1134.45,456.05 L1135.95,456.32 L1137.45,456.58 L1138.95,456.84 L1140.45,457.10 L1141.95,457.34 L1143.45,457.58 L1144.95,457.82 L1146.45,458.05 L1147.95,458.27 L1149.45,458.49 L1150.95,458.71 L1152.45,458.92 L1153.95,459.12 L1155.45,459.32 L1156.95,459.52 L1158.45,459.71 L1159.95,459.89 L1161.45,460.08 L1162.95,460.25 L1164.45,460.43 L1165.95,460.60 L1167.45,460.76 L1168.95,460.93 L1170.45,461.08 L1171.95,461.24 L1173.45,461.39 L1174.95,461.54 L1176.45,461.68 L1177.95,461.82 L1178.20,461.85 L1178.20,481.90 Z" fill="#f4d88e"/>
<path d="M1013.40,346.50 L1014.90,351.17 L1016.40,355.00 L1017.90,358.21 L1019.40,360.92 L1020.90,363.26 L1022.40,365.32 L1023.90,367.16 L1025.40,368.82 L1026.90,370.34 L1028.40,371.76 L1029.90,373.09 L1031.40,374.35 L1032.90,375.55 L1034.40,376.70 L1035.90,377.80 L1037.40,378.87 L1038.90,379.91 L1040.40,380.92 L1041.90,381.90 L1043.40,382.86 L1044.90,383.79 L1046.40,384.70 L1047.90,385.60 L1049.40,386.47 L1050.90,387.32 L1052.40,388.15 L1053.90,388.97 L1055.40,389.77 L1056.90,390.55 L1058.40,391.32 L1059.90,392.07 L1061.40,392.80 L1062.90,393.52 L1064.40,394.23 L1065.90,394.92 L1067.40,395.60 L1068.90,396.26 L1070.40,396.91 L1071.90,397.54 L1073.40,398.17 L1074.90,398.78 L1076.40,399.37 L1077.90,399.96 L1079.40,400.53 L1080.90,401.09 L1082.40,401.64 L1083.90,402.18 L1085.40,402.71 L1086.90,403.22 L1088.40,403.73 L1089.90,404.22 L1091.40,404.71 L1092.90,405.19 L1094.40,405.65 L1095.90,406.11 L1097.40,406.55 L1098.90,406.99 L1100.40,407.42 L1101.90,407.84 L1103.40,408.25 L1104.90,408.66 L1106.40,409.05 L1107.90,409.44 L1109.40,409.82 L1110.90,410.19 L1112.40,410.55 L1113.90,410.91 L1115.40,411.25 L1116.90,411.60 L1118.40,411.93 L1119.90,412.26 L1121.40,412.58 L1122.90,412.89 L1124.40,413.20 L1125.90,413.50 L1127.40,413.80 L1128.90,414.09 L1130.40,414.37 L1131.90,414.65 L1133.40,414.92 L1134.90,415.19 L1136.40,415.45 L1137.90,415.70 L1139.40,415.95 L1140.90,416.20 L1142.40,416.44 L1143.90,416.67 L1145.40,416.90 L1146.90,417.13 L1148.40,417.35 L1149.90,417.57 L1151.40,417.78 L1152.90,417.99 L1154.40,418.19 L1155.90,418.39 L1157.40,418.58 L1158.90,418.78 L1160.40,418.96 L1161.90,419.15 L1163.40,419.33 L1164.90,419.50 L1166.40,419.67 L1167.90,419.84 L1169.40,420.01 L1170.90,420.17 L1172.40,420.33 L1173.90,420.48 L1175.40,420.64 L1176.90,420.79 L1178.10,420.90" fill="none" stroke="#e8c352" stroke-width="1" stroke-dasharray="1.7 1.7"/>
<path d="M997.95,344.91 L999.45,353.19 L1000.95,359.93 L1002.45,365.51 L1003.95,370.20 L1005.45,374.20 L1006.95,377.68 L1008.45,380.75 L1009.95,383.51 L1011.45,386.02 L1012.95,388.34 L1014.45,390.49 L1015.95,392.52 L1017.45,394.44 L1018.95,396.27 L1020.45,398.03 L1021.95,399.72 L1023.45,401.35 L1024.95,402.93 L1026.45,404.46 L1027.95,405.95 L1029.45,407.40 L1030.95,408.81 L1032.45,410.19 L1033.95,411.52 L1035.45,412.83 L1036.95,414.11 L1038.45,415.35 L1039.95,416.57 L1041.45,417.75 L1042.95,418.91 L1044.45,420.04 L1045.95,421.15 L1047.45,422.23 L1048.95,423.28 L1050.45,424.31 L1051.95,425.31 L1053.45,426.30 L1054.95,427.26 L1056.45,428.19 L1057.95,429.11 L1059.45,430.00 L1060.95,430.88 L1062.45,431.73 L1063.95,432.56 L1065.45,433.38 L1066.95,434.17 L1068.45,434.95 L1069.95,435.71 L1071.45,436.45 L1072.95,437.18 L1074.45,437.88 L1075.95,438.57 L1077.45,439.25 L1078.95,439.91 L1080.45,440.55 L1081.95,441.18 L1083.45,441.80 L1084.95,442.40 L1086.45,442.99 L1087.95,443.56 L1089.45,444.12 L1090.95,444.67 L1092.45,445.20 L1093.95,445.72 L1095.45,446.23 L1096.95,446.73 L1098.45,447.22 L1099.95,447.69 L1101.45,448.16 L1102.95,448.61 L1104.45,449.05 L1105.95,449.49 L1107.45,449.91 L1108.95,450.32 L1110.45,450.73 L1111.95,451.12 L1113.45,451.50 L1114.95,451.88 L1116.45,452.25 L1117.95,452.61 L1119.45,452.96 L1120.95,453.30 L1122.45,453.64 L1123.95,453.96 L1125.45,454.28 L1126.95,454.59 L1128.45,454.90 L1129.95,455.20 L1131.45,455.49 L1132.95,455.77 L1134.45,456.05 L1135.95,456.32 L1137.45,456.58 L1138.95,456.84 L1140.45,457.10 L1141.95,457.34 L1143.45,457.58 L1144.95,457.82 L1146.45,458.05 L1147.95,458.27 L1149.45,458.49 L1150.95,458.71 L1152.45,458.92 L1153.95,459.12 L1155.45,459.32 L1156.95,459.52 L1158.45,459.71 L1159.95,459.89 L1161.45,460.08 L1162.95,460.25 L1164.45,460.43 L1165.95,460.60 L1167.45,460.76 L1168.95,460.93 L1170.45,461.08 L1171.95,461.24 L1173.45,461.39 L1174.95,461.54 L1176.45,461.68 L1177.95,461.82 L1178.10,461.84" fill="none" stroke="#e8c352" stroke-width="1.0"/>
<path d="M986.10,327.90 L987.60,342.83 L989.10,352.93 L990.60,360.58 L992.10,366.90 L993.60,372.44 L995.10,377.46 L996.60,382.09 L998.10,386.41 L999.60,390.45 L1001.10,394.23 L1002.60,397.79 L1004.10,401.14 L1005.60,404.28 L1007.10,407.24 L1008.60,410.02 L1010.10,412.64 L1011.60,415.10 L1013.10,417.41 L1014.45,419.53 L1014.60,419.64 L1016.10,420.79 L1017.60,421.90 L1019.10,422.99 L1020.60,424.04 L1022.10,425.06 L1023.60,426.05 L1025.10,427.01 L1026.60,427.95 L1028.10,428.85 L1029.60,429.72 L1031.10,430.57 L1032.60,431.39 L1034.10,432.18 L1035.60,432.94 L1037.10,433.68 L1038.60,434.39 L1040.10,435.07 L1041.60,435.73 L1043.10,436.37 L1044.60,436.98 L1046.10,437.57 L1047.60,438.13 L1049.10,438.67 L1050.60,439.19 L1052.10,439.68 L1053.60,440.15 L1055.10,440.60 L1056.60,441.03 L1058.10,441.44 L1059.60,441.83 L1061.10,442.20 L1062.60,442.55 L1064.10,442.88 L1065.60,443.20 L1067.10,443.49 L1068.60,443.77 L1070.10,444.03 L1071.60,444.27 L1073.10,444.50 L1074.60,444.71 L1076.10,444.90 L1077.60,445.08 L1079.10,445.25 L1080.60,445.40 L1082.10,445.53 L1083.60,445.66 L1085.10,445.77 L1086.60,445.86 L1088.10,445.95 L1089.60,446.02 L1091.10,446.09 L1092.60,446.14 L1094.10,446.18 L1095.60,446.21 L1097.10,446.23 L1098.60,446.24 L1100.10,446.25 L1101.60,446.24 L1103.10,446.23 L1104.60,446.21 L1106.10,446.18 L1107.60,446.15 L1109.10,446.11 L1110.60,446.07 L1112.10,446.02 L1113.60,445.96 L1115.10,445.90 L1116.60,445.84 L1118.10,445.77 L1119.60,445.70 L1121.10,445.63 L1122.60,445.55 L1124.10,445.47 L1125.60,445.39 L1127.10,445.32 L1128.60,445.24 L1130.10,445.16 L1131.60,445.08 L1133.10,445.00 L1134.60,444.92 L1136.10,444.84 L1137.60,444.77 L1139.10,444.70 L1140.60,444.63 L1142.10,444.56 L1143.60,444.50 L1145.10,444.45 L1146.60,444.39 L1148.10,444.35 L1149.60,444.31 L1151.10,444.27 L1152.60,444.24 L1154.10,444.22 L1155.60,444.20 L1157.10,444.20 L1158.60,444.20 L1160.10,444.21 L1161.60,444.23 L1163.10,444.26 L1164.60,444.30 L1166.10,444.34 L1167.60,444.40 L1169.10,444.48 L1170.60,444.56 L1172.10,444.65 L1173.60,444.76 L1175.10,444.88 L1176.60,445.02 L1178.10,445.16" fill="none" stroke="#3f8cc6" stroke-width="1.05"/>
<path d="M986.10,302.10 L986.10,481.90 L1200.00,481.90" fill="none" stroke="#2b1416" stroke-width="1.15" stroke-linejoin="miter"/>
<path d="M986.10,298.10 l2.95,7.8 l-2.95,-1.7 l-2.95,1.7 Z" fill="#2b1416"/>
<path d="M1204.00,481.90 l-7.8,-3.1 l1.7,3.1 l-1.7,3.1 Z" fill="#2b1416"/>
<line x1="1016.00" y1="301.00" x2="1016.00" y2="481.90" stroke="#666364" stroke-width="1.7" stroke-dasharray="1.7 1.68"/>
<line x1="1120.90" y1="299.30" x2="1120.90" y2="481.90" stroke="#666364" stroke-width="1.8" stroke-dasharray="2.8 2.1"/>
<line x1="1178.20" y1="303.20" x2="1178.20" y2="481.90" stroke="#666364" stroke-width="1.7" stroke-dasharray="1.7 1.68"/>
<text x="906.8" y="378.6" font-size="15.5" font-weight="normal" text-anchor="start" fill="#222" textLength="63.4" lengthAdjust="spacingAndGlyphs">Marginal</text>
<text x="919.9" y="397.1" font-size="15.5" font-weight="normal" text-anchor="start" fill="#222" textLength="50.3" lengthAdjust="spacingAndGlyphs">cost ($</text>
<text x="913.6" y="415.5" font-size="15.5" font-weight="normal" text-anchor="start" fill="#222" textLength="56.6" lengthAdjust="spacingAndGlyphs">per unit</text>
<text x="899.9" y="433.6" font-size="15.5" font-weight="normal" text-anchor="start" fill="#222" textLength="70.3" lengthAdjust="spacingAndGlyphs">pollution)</text>
<text x="1051.6" y="286.0" font-size="15.5" font-weight="normal" text-anchor="start" fill="#222" textLength="36.7" lengthAdjust="spacingAndGlyphs">More</text>
<text x="1034.6" y="304.3" font-size="15.5" font-weight="normal" text-anchor="start" fill="#222" textLength="65.4" lengthAdjust="spacingAndGlyphs">pollution</text>
<text x="1045.8" y="323.2" font-size="15.5" font-weight="normal" text-anchor="start" fill="#222" textLength="46.5" lengthAdjust="spacingAndGlyphs">due to</text>
<text x="1034.1" y="341.9" font-size="15.5" font-weight="normal" text-anchor="start" fill="#222" textLength="70.3" lengthAdjust="spacingAndGlyphs">migration</text>
<path d="M1066.6,430.8 L1066.6,354" stroke="#2b1416" stroke-width="1.7" fill="none"/>
<path d="M1066.6,347.5 l4.1,11 l-4.1,-2.2 l-4.1,2.2 Z" fill="#2b1416"/>
<text x="1032.0" y="505.7" font-size="15.5" font-weight="normal" text-anchor="start" fill="#222" textLength="103.7" lengthAdjust="spacingAndGlyphs">Pollution level</text>
<text x="0.0" y="17.0" font-size="22" font-weight="bold" text-anchor="start" fill="#1a1a1a" textLength="12.0" lengthAdjust="spacingAndGlyphs" stroke="#1a1a1a" stroke-width="0.8" stroke-linejoin="round">a</text>
<text x="22.7" y="17.1" font-size="16.5" font-weight="bold" text-anchor="start" fill="#1a1a1a" textLength="242.3" lengthAdjust="spacingAndGlyphs" stroke="#1a1a1a" stroke-width="0.35" word-spacing="-0.8"><tspan word-spacing="-2">Time = 0,</tspan> MRR cost &gt; LRR cost</text>
<text x="398.3" y="16.5" font-size="22" font-weight="bold" text-anchor="start" fill="#1a1a1a" textLength="13.2" lengthAdjust="spacingAndGlyphs" stroke="#1a1a1a" stroke-width="0.8" stroke-linejoin="round">b</text>
<text x="421.4" y="17.2" font-size="16.5" font-weight="bold" text-anchor="start" fill="#1a1a1a" textLength="369.4" lengthAdjust="spacingAndGlyphs" stroke="#1a1a1a" stroke-width="0.35" word-spacing="-0.8"><tspan word-spacing="-2">Time = 1,</tspan> more stringent regulatory standard,</text>
<text x="421.4" y="37.0" font-size="16.5" font-weight="bold" text-anchor="start" fill="#1a1a1a" textLength="342.3" lengthAdjust="spacingAndGlyphs" stroke="#1a1a1a" stroke-width="0.35" word-spacing="-0.8">additional MRR cost &lt; additional LRR cost</text>
<text x="887.3" y="17.0" font-size="22" font-weight="bold" text-anchor="start" fill="#1a1a1a" textLength="13.2" lengthAdjust="spacingAndGlyphs" stroke="#1a1a1a" stroke-width="0.8" stroke-linejoin="round">c</text>
<text x="910.0" y="17.3" font-size="16.5" font-weight="bold" text-anchor="start" fill="#1a1a1a" textLength="327.9" lengthAdjust="spacingAndGlyphs" stroke="#1a1a1a" stroke-width="0.35" word-spacing="-0.8"><tspan word-spacing="-2">Time = 1,</tspan> larger volume of contaminated</text>
<text x="910.0" y="37.2" font-size="16.5" font-weight="bold" text-anchor="start" fill="#1a1a1a" textLength="254.5" lengthAdjust="spacingAndGlyphs" stroke="#1a1a1a" stroke-width="0.35" word-spacing="-0.8">groundwater due to migration,</text>
<text x="910.0" y="57.0" font-size="16.5" font-weight="bold" text-anchor="start" fill="#1a1a1a" textLength="175.7" lengthAdjust="spacingAndGlyphs" stroke="#1a1a1a" stroke-width="0.35" word-spacing="-0.8">MRR cost &lt;&lt; LRR cost</text>
<rect x="107.2" y="528.5" width="999.4" height="42.4" fill="#fff" stroke="#6a6668" stroke-width="1"/>
<line x1="128" y1="549.3" x2="159" y2="549.3" stroke="#e6c65c" stroke-width="2.5"/>
<text x="169.6" y="553.8" font-size="15.5" font-weight="normal" text-anchor="start" fill="#222" textLength="275.8" lengthAdjust="spacingAndGlyphs">Less resilient remediation (LRR) curve</text>
<line x1="471.8" y1="549.3" x2="503.1" y2="549.3" stroke="#4a97d2" stroke-width="2.5"/>
<text x="514.2" y="553.8" font-size="15.5" font-weight="normal" text-anchor="start" fill="#222" textLength="287.2" lengthAdjust="spacingAndGlyphs">More resilient remediation (MRR) curve</text>
<rect x="823.5" y="540.1" width="19.2" height="18.8" fill="#f3d88c" stroke="#efcd70" stroke-width="1"/>
<text x="852.0" y="553.8" font-size="15.5" font-weight="normal" text-anchor="start" fill="#222" textLength="87.6" lengthAdjust="spacingAndGlyphs">LRR cost ($)</text>
<rect x="967.1" y="539.9" width="19.4" height="19.2" fill="#cbe5f1" stroke="#82c4ec" stroke-width="1.4"/>
<text x="998.3" y="553.8" font-size="15.5" font-weight="normal" text-anchor="start" fill="#222" textLength="92.8" lengthAdjust="spacingAndGlyphs">MRR cost ($)</text>
</svg>
</body>
</html>
